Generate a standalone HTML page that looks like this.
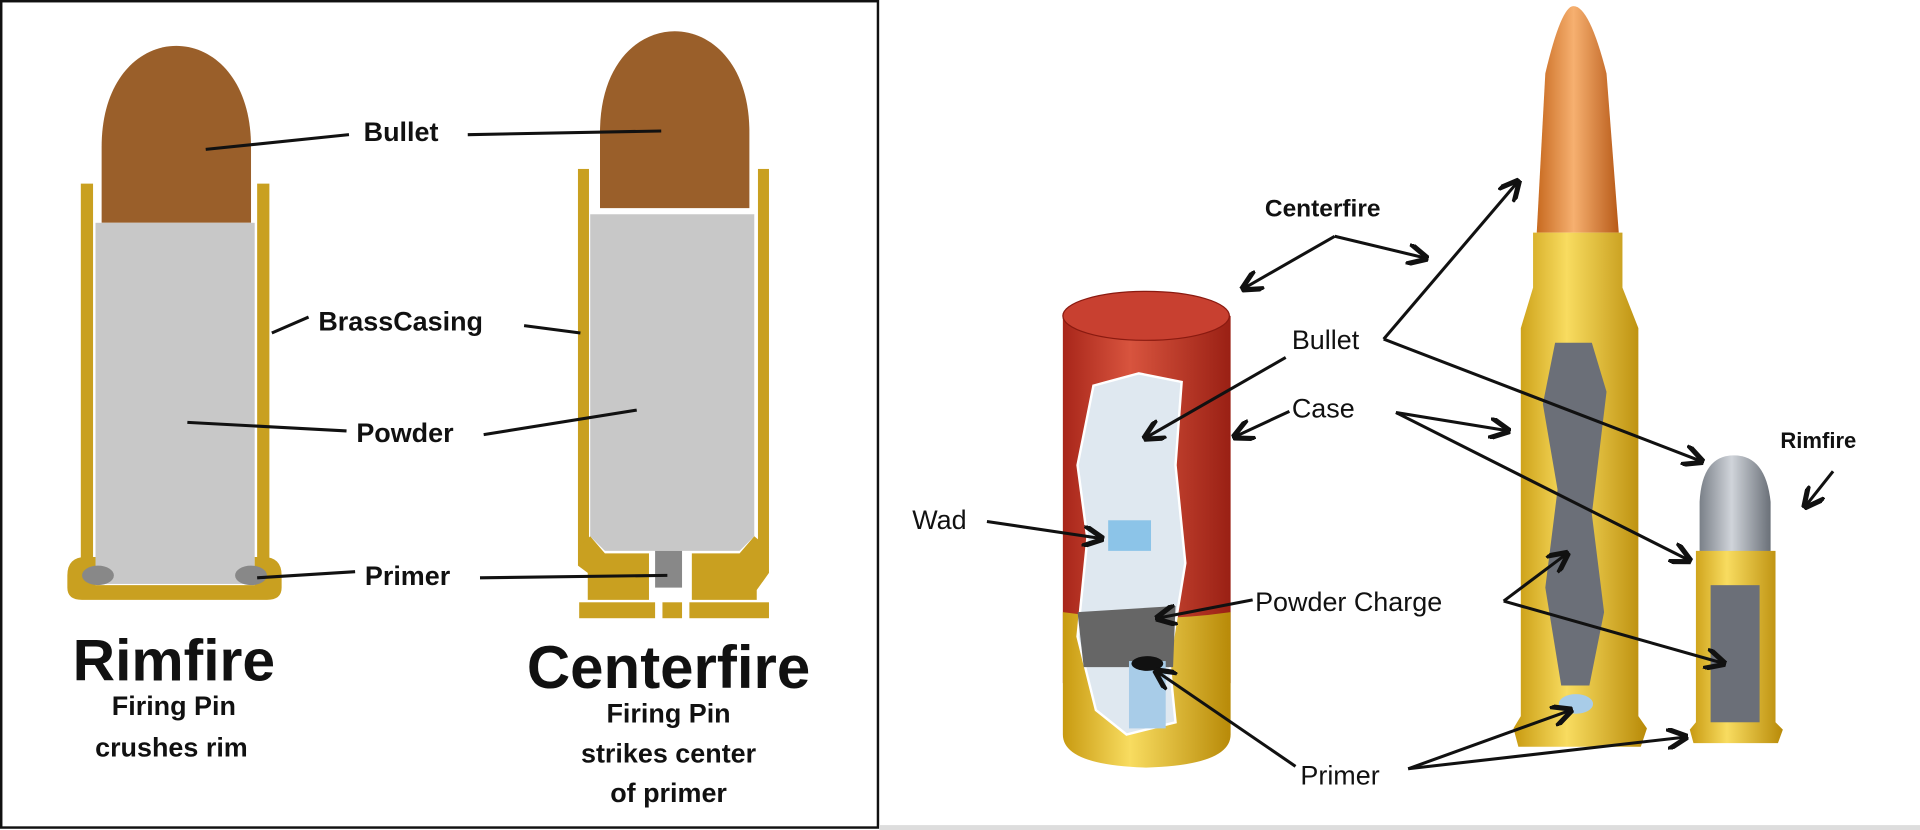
<!DOCTYPE html>
<html><head><meta charset="utf-8"><style>
html,body{margin:0;padding:0;background:#fff;width:1920px;height:830px;overflow:hidden}
svg{display:block}
text{font-family:"Liberation Sans",Arial,sans-serif}
</style></head><body>
<svg width="1920" height="830" viewBox="0 0 1568 678" preserveAspectRatio="none">
<defs>
<marker id="ah" viewBox="0 0 10 10" refX="9" refY="5" markerWidth="7" markerHeight="7" orient="auto-start-reverse"><path d="M0,0 L10,5 L0,10" fill="none" stroke="#111" stroke-width="2.4"/></marker>
<linearGradient id="red" x1="0" x2="1"><stop offset="0" stop-color="#a8261a"/><stop offset="0.4" stop-color="#d8543e"/><stop offset="1" stop-color="#9a2014"/></linearGradient>
<linearGradient id="brass" x1="0" x2="1"><stop offset="0" stop-color="#c89a10"/><stop offset="0.4" stop-color="#f8dc60"/><stop offset="1" stop-color="#b88a08"/></linearGradient>
<linearGradient id="cop" x1="0" x2="1"><stop offset="0" stop-color="#c86a20"/><stop offset="0.45" stop-color="#f6b070"/><stop offset="1" stop-color="#b85a18"/></linearGradient>
<linearGradient id="lead" x1="0" x2="1"><stop offset="0" stop-color="#7a8088"/><stop offset="0.45" stop-color="#d0d4da"/><stop offset="1" stop-color="#6a7078"/></linearGradient>
</defs>
<rect x="0" y="0" width="1568" height="678" fill="#fff"/>
<rect x="1" y="1" width="716" height="675" fill="#fff" stroke="#111" stroke-width="2"/>
<rect x="718" y="674" width="850" height="4" fill="#ddd"/>

<!-- Rimfire -->
<path d="M83,182 L83,120 C83,10 205,10 205,120 L205,182 Z" fill="#9a5f2a"/>
<rect x="66" y="150" width="10" height="312" fill="#c9a020"/>
<rect x="210" y="150" width="10" height="312" fill="#c9a020"/>
<rect x="78" y="182" width="130" height="295" fill="#c8c8c8"/>
<path d="M55,470 Q55,455 70,455 L78,455 L78,478 L208,478 L208,455 L215,455 Q230,455 230,470 L230,480 Q230,490 218,490 L67,490 Q55,490 55,480 Z" fill="#c9a020"/>
<ellipse cx="80" cy="470" rx="13" ry="8" fill="#888"/>
<ellipse cx="205" cy="470" rx="13" ry="8" fill="#888"/>

<!-- Centerfire -->
<path d="M490,170 L490,108 C490,-2 612,-2 612,108 L612,170 Z" fill="#9a5f2a"/>
<rect x="472" y="138" width="9" height="310" fill="#c9a020"/>
<rect x="619" y="138" width="9" height="310" fill="#c9a020"/>
<path d="M482,175 L616,175 L616,438 L604,450 L494,450 L482,438 Z" fill="#c8c8c8"/>
<path d="M472,448 L482,438 L494,452 L604,452 L616,438 L628,448 L628,468 L618,482 L618,490 L565,490 L565,452 L530,452 L530,490 L480,490 L480,468 L472,462 Z" fill="#c9a020"/>
<rect x="535" y="450" width="22" height="30" fill="#888"/>
<rect x="473" y="492" width="62" height="13" fill="#c9a020"/>
<rect x="541" y="492" width="16" height="13" fill="#c9a020"/>
<rect x="563" y="492" width="65" height="13" fill="#c9a020"/>

<g stroke="#111" stroke-width="2.5" fill="none">
<line x1="168" y1="122" x2="285" y2="110"/><line x1="382" y1="110" x2="540" y2="107"/>
<line x1="222" y1="272" x2="252" y2="259"/><line x1="428" y1="266" x2="474" y2="272"/>
<line x1="153" y1="345" x2="283" y2="352"/><line x1="395" y1="355" x2="520" y2="335"/>
<line x1="210" y1="472" x2="290" y2="467"/><line x1="392" y1="472" x2="545" y2="470"/>
</g>
<g font-weight="bold" fill="#111" font-size="22">
<text x="297" y="115">Bullet</text>
<text x="260" y="270">BrassCasing</text>
<text x="291" y="361">Powder</text>
<text x="298" y="478">Primer</text>
</g>
<g font-weight="bold" fill="#111" text-anchor="middle">
<text x="142" y="556" font-size="48">Rimfire</text>
<text x="142" y="584" font-size="22">Firing Pin</text>
<text x="140" y="618" font-size="22">crushes rim</text>
<text x="546" y="562" font-size="49">Centerfire</text>
<text x="546" y="590" font-size="22">Firing Pin</text>
<text x="546" y="623" font-size="22">strikes center</text>
<text x="546" y="655" font-size="22">of primer</text>
</g>

<!-- Shotgun shell -->
<rect x="868" y="258" width="137" height="300" fill="url(#red)"/>
<ellipse cx="936" cy="258" rx="68" ry="20" fill="#c84030" stroke="#8a1a10" stroke-width="1"/>
<path d="M868,558 L868,500 Q936,510 1005,500 L1005,600 Q1005,625 936,627 Q868,625 868,600 Z" fill="url(#brass)"/>
<path d="M893,315 L930,305 L965,312 L960,380 L968,460 L955,540 L960,590 L920,600 L895,580 L880,520 L888,440 L880,380 Z" fill="#dfe8f0" stroke="#fff" stroke-width="2"/>
<rect x="905" y="425" width="35" height="25" fill="#8cc4e8"/>
<path d="M880,500 L960,495 L958,545 L885,545 Z" fill="#666"/>
<rect x="922" y="540" width="30" height="55" fill="#a8cce8"/>
<ellipse cx="937" cy="542" rx="13" ry="6" fill="#111"/>

<!-- Rifle -->
<path d="M1255,190 L1262,60 Q1275,5 1285,5 Q1298,5 1312,60 L1322,190 Z" fill="url(#cop)"/>
<path d="M1252,190 L1325,190 L1325,235 L1338,268 L1338,585 L1345,595 L1340,610 L1240,610 L1236,595 L1242,585 L1242,268 L1252,235 Z" fill="url(#brass)"/>
<path d="M1270,280 L1300,280 L1312,320 L1300,420 L1310,500 L1298,560 L1275,560 L1262,480 L1272,400 L1260,330 Z" fill="#6b6f78"/>
<ellipse cx="1287" cy="575" rx="14" ry="8" fill="#a8cce8"/>

<!-- .22 rimfire -->
<path d="M1388,455 L1388,410 Q1390,372 1416,372 Q1442,372 1446,410 L1446,455 Z" fill="url(#lead)"/>
<path d="M1385,450 L1450,450 L1450,590 L1456,596 L1452,607 L1383,607 L1380,596 L1385,590 Z" fill="url(#brass)"/>
<rect x="1397" y="478" width="40" height="112" fill="#6b6f78"/>

<g stroke="#111" stroke-width="2.5" fill="none" marker-end="url(#ah)">
<polyline points="1090,193 1015,236" /><polyline points="1090,193 1165,211"/>
<line x1="1130" y1="277" x2="1240" y2="148"/>
<line x1="1130" y1="277" x2="1390" y2="377"/>
<line x1="1050" y1="292" x2="935" y2="358"/>
<line x1="1053" y1="336" x2="1008" y2="357"/>
<line x1="1140" y1="337" x2="1232" y2="352"/>
<line x1="1140" y1="337" x2="1380" y2="458"/>
<line x1="806" y1="426" x2="900" y2="440"/>
<line x1="1023" y1="490" x2="945" y2="505"/>
<line x1="1228" y1="491" x2="1280" y2="452"/>
<line x1="1228" y1="491" x2="1408" y2="542"/>
<line x1="1058" y1="626" x2="944" y2="548"/>
<line x1="1150" y1="628" x2="1283" y2="580"/>
<line x1="1150" y1="628" x2="1377" y2="602"/>
<line x1="1497" y1="385" x2="1474" y2="414"/>
</g>
<g fill="#111">
<text x="1033" y="177" font-size="20" font-weight="bold">Centerfire</text>
<text x="1454" y="366" font-size="18" font-weight="bold">Rimfire</text>
<text x="1055" y="285" font-size="22">Bullet</text>
<text x="1055" y="341" font-size="22">Case</text>
<text x="745" y="432" font-size="22">Wad</text>
<text x="1025" y="499" font-size="22">Powder Charge</text>
<text x="1062" y="641" font-size="22">Primer</text>
</g>
</svg>
</body></html>
